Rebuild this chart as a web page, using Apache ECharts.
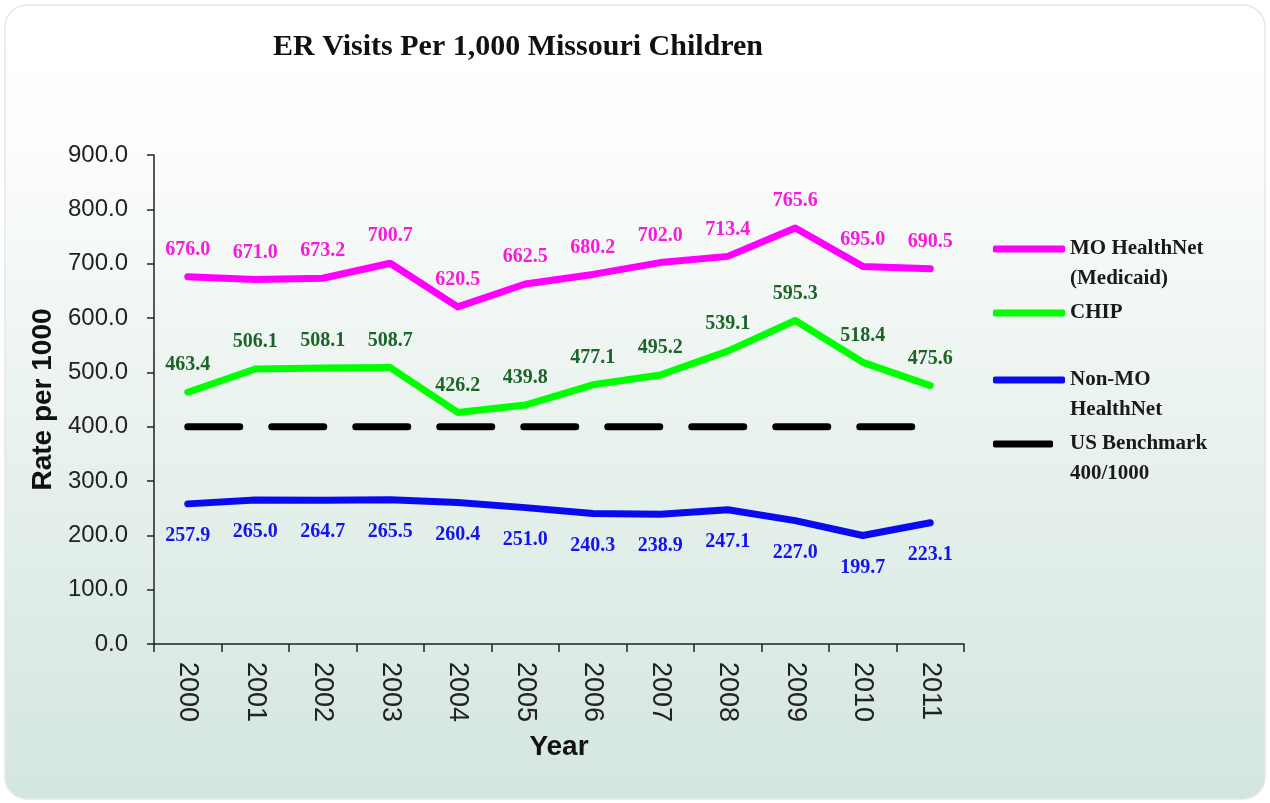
<!DOCTYPE html>
<html>
<head>
<meta charset="utf-8">
<title>ER Visits Per 1,000 Missouri Children</title>
<script src="https://cdn.jsdelivr.net/npm/echarts@6/dist/echarts.min.js"></script>
<style>
  html, body { margin: 0; padding: 0; background: #ffffff; }
  #chart { width: 1270px; height: 803px; }
</style>
</head>
<body>
<div id="chart"></div>
<script>
// Years on the category axis
const years = ['2000', '2001', '2002', '2003', '2004', '2005', '2006', '2007', '2008', '2009', '2010', '2011'];

// ER visits per 1,000 children, by coverage group
const moHealthNet = [676.0, 671.0, 673.2, 700.7, 620.5, 662.5, 680.2, 702.0, 713.4, 765.6, 695.0, 690.5];
const chip = [463.4, 506.1, 508.1, 508.7, 426.2, 439.8, 477.1, 495.2, 539.1, 595.3, 518.4, 475.6];
const nonMoHealthNet = [257.9, 265.0, 264.7, 265.5, 260.4, 251.0, 240.3, 238.9, 247.1, 227.0, 199.7, 223.1];
const usBenchmark = [400, 400, 400, 400, 400, 400, 400, 400, 400, 400, 400, 400];

// Y axis range
const yMin = 0, yMax = 900, yStep = 100;

const serif = "'Liberation Serif', 'Times New Roman', serif";
const sans = "'Liberation Sans', Arial, sans-serif";

// Legend text: a blank first line keeps the swatch level with the first text line
const legendText = {
  'MO HealthNet (Medicaid)': ' \n{a|MO HealthNet}\n{a|(Medicaid)}',
  'CHIP': '{a|CHIP}',
  'Non-MO HealthNet': ' \n{a|Non-MO}\n{a|HealthNet}',
  'US Benchmark 400/1000': ' \n{b|US Benchmark}\n{b|400/1000}'
};

function legendFor(name, top, width) {
  const txt = { fontFamily: serif, fontWeight: 'bold', fontSize: 21, color: '#1a1a1a', lineHeight: 30 };
  return {
    show: true,
    left: 988,
    top: top,
    orient: 'vertical',
    selectedMode: false,
    data: [name],
    icon: 'roundRect',
    itemWidth: width,
    itemHeight: 7,
    formatter: n => legendText[n],
    textStyle: {
      fontFamily: serif,
      fontSize: 21,
      lineHeight: 30,
      rich: {
        a: txt,
        b: Object.assign({}, txt, { padding: [0, 0, 0, 12] })
      }
    }
  };
}

function valueLabel(color, position, distance) {
  return {
    show: true,
    position: position,
    distance: distance,
    color: color,
    fontFamily: serif,
    fontWeight: 'bold',
    fontSize: 20,
    formatter: p => p.value.toFixed(1)
  };
}

function lineSeries(name, data, color, labelColor, labelPos, labelDist) {
  return {
    name: name,
    type: 'line',
    data: data,
    symbol: 'circle',
    symbolSize: 2,
    showSymbol: true,
    color: color,
    itemStyle: { color: color },
    lineStyle: { width: 7, color: color, cap: 'round', join: 'round' },
    label: valueLabel(labelColor, labelPos, labelDist),
    z: 4
  };
}

const chart = echarts.init(document.getElementById('chart'), null, { renderer: 'canvas' });

chart.setOption({
  animation: false,
  backgroundColor: '#ffffff',
  graphic: [{
    type: 'rect',
    z: -10,
    silent: true,
    shape: { x: 5, y: 5, width: 1260, height: 794, r: 22 },
    style: {
      fill: new echarts.graphic.LinearGradient(0, 0, 0, 1, [
        { offset: 0, color: '#ffffff' },
        { offset: 0.15, color: '#fdfefd' },
        { offset: 0.5, color: '#ebf3ef' },
        { offset: 1, color: '#d3e6de' }
      ]),
      stroke: '#e4e8e6',
      lineWidth: 1.5
    }
  }],
  title: {
    text: 'ER Visits Per 1,000 Missouri Children',
    left: 268,
    top: 27,
    textStyle: {
      fontFamily: serif,
      fontWeight: 'bold',
      fontSize: 30,
      color: '#111111'
    }
  },
  legend: [
    legendFor('MO HealthNet (Medicaid)', 199, 72),
    legendFor('CHIP', 293, 72),
    legendFor('Non-MO HealthNet', 330, 72),
    legendFor('US Benchmark 400/1000', 394, 60)
  ],
  grid: {
    left: 154,
    right: 306,
    top: 155,
    bottom: 159,
    containLabel: false
  },
  xAxis: {
    type: 'category',
    data: years,
    boundaryGap: true,
    name: 'Year',
    nameLocation: 'middle',
    nameGap: 89,
    nameTextStyle: {
      fontFamily: sans,
      fontWeight: 'bold',
      fontSize: 28,
      color: '#111111'
    },
    axisLine: { lineStyle: { color: '#222222', width: 1.5 } },
    axisTick: { show: true, length: 8, alignWithLabel: false, lineStyle: { color: '#222222', width: 1.5 } },
    axisLabel: {
      rotate: -90,
      margin: 18,
      fontFamily: sans,
      fontSize: 27,
      color: '#222222'
    },
    splitLine: { show: false }
  },
  yAxis: {
    type: 'value',
    min: yMin,
    max: yMax,
    interval: yStep,
    name: 'Rate per 1000',
    nameLocation: 'middle',
    nameRotate: 90,
    nameGap: 93,
    nameTextStyle: {
      fontFamily: sans,
      fontWeight: 'bold',
      fontSize: 28,
      color: '#111111'
    },
    axisLine: { show: true, lineStyle: { color: '#222222', width: 1.5 } },
    axisTick: { show: true, length: 7, lineStyle: { color: '#222222', width: 1.5 } },
    axisLabel: {
      margin: 26,
      fontFamily: sans,
      fontSize: 24,
      color: '#222222',
      formatter: v => v.toFixed(1)
    },
    splitLine: { show: false }
  },
  series: [
    lineSeries('MO HealthNet (Medicaid)', moHealthNet, '#ff00ff', '#f81adc', 'top', 16),
    lineSeries('CHIP', chip, '#00ff00', '#1c6428', 'top', 16),
    lineSeries('Non-MO HealthNet', nonMoHealthNet, '#0a0af0', '#1414f0', 'bottom', 21),
    {
      name: 'US Benchmark 400/1000',
      type: 'line',
      data: usBenchmark,
      symbol: 'none',
      color: '#000000',
      lineStyle: { width: 7, color: '#000000', type: [52, 32], cap: 'round' },
      label: { show: false },
      z: 3
    }
  ]
});
</script>
</body>
</html>
